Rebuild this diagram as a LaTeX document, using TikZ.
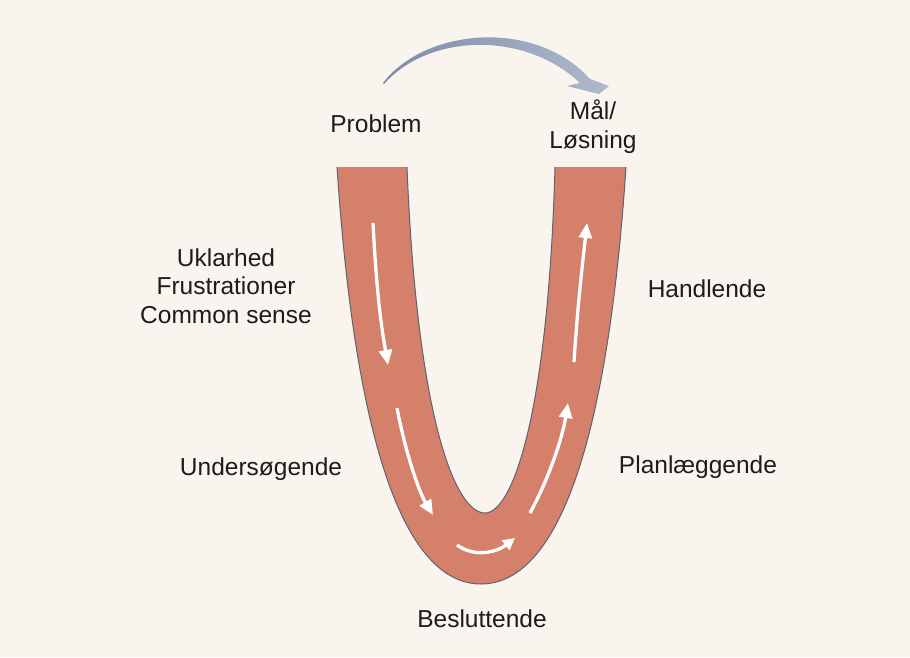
\documentclass[tikz,border=0pt]{standalone}
\usepackage{fontspec}
\setmainfont{Liberation Sans}
\usetikzlibrary{arrows.meta}
\definecolor{cream}{HTML}{F9F4EE}
\definecolor{clay}{HTML}{D4806A}
\definecolor{rim}{HTML}{5E6372}
\definecolor{slatedark}{HTML}{7F8CA8}
\definecolor{slatelight}{HTML}{AFB9CD}
\definecolor{ink}{HTML}{1C1C1C}

\begin{document}
\begin{tikzpicture}[x=1pt,y=-1pt,
  lbl/.style={font=\fontsize{24.5}{28.5}\selectfont,text=ink,align=center,inner sep=0pt,anchor=base},
  flow/.style={-{Triangle[length=15pt,width=13pt]},line width=3.3pt,white}]
\fill[cream] (0,0) rectangle (910,657);
\useasboundingbox (0,0) rectangle (910,657);
% the U band
\fill[clay] (337,167) .. controls (359,497) and (421,584) .. (481,584)
  .. controls (541,584) and (604,497) .. (626,167) -- (555,167)
  .. controls (548,417) and (512,513) .. (485,513)
  .. controls (455,513) and (417,417) .. (407,167) -- cycle;
\draw[rim,line width=1pt] (337,167) .. controls (359,497) and (421,584) .. (481,584)
  .. controls (541,584) and (604,497) .. (626,167);
\draw[rim,line width=1pt] (555,167) .. controls (548,417) and (512,513) .. (485,513)
  .. controls (455,513) and (417,417) .. (407,167);
% flow arrows inside the band
\draw[flow] (373,223) .. controls (377,300) and (382,330) .. (388,365);
\draw[flow] (397,408) .. controls (405,450) and (418,490) .. (433,515);
\draw[flow,-{Triangle[length=12pt,width=12pt]}] (457,545) .. controls (475,558) and (497,552) .. (515,538);
\draw[flow] (530,513) .. controls (548,480) and (562,440) .. (568,403);
\draw[flow] (574,362) .. controls (578,300) and (583,260) .. (587,223);
% arc from problem to goal
\shade[left color=slatedark,right color=slatelight] (383,83) .. controls (425,28) and (535,18) .. (590,79)
  -- (609,86) -- (599,94) -- (567,86) -- (580,83)
  .. controls (524,30) and (428,34) .. (384,84) -- cycle;
% labels
\node[lbl] (problem) at (376,132) {Problem};
\node[lbl] (maal) at (593,148) {Mål/\\Løsning};
\node[lbl] (uklar) at (226,323) {Uklarhed\\Frustrationer\\Common sense};
\node[lbl] (under) at (261,475) {Undersøgende};
\node[lbl] (handl) at (707,297) {Handlende};
\node[lbl] (plan) at (698,473) {Planlæggende};
\node[lbl] (beslut) at (482,627) {Besluttende};
\end{tikzpicture}
\end{document}
